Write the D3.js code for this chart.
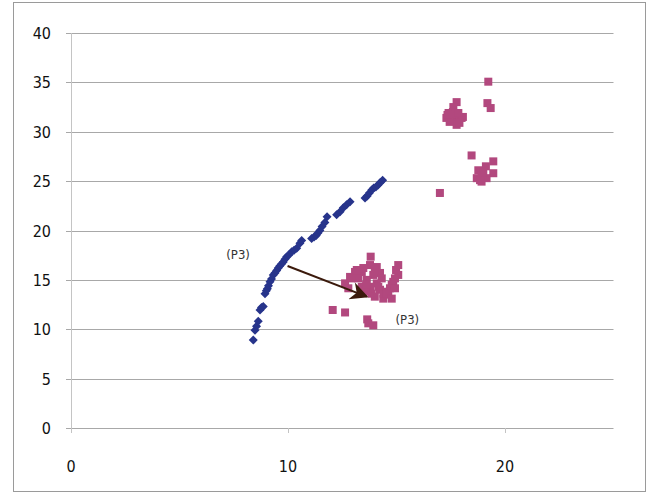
<!DOCTYPE html>
<html>
<head>
<meta charset="utf-8">
<script src="https://cdn.jsdelivr.net/npm/d3@7"></script>
<style>
  body { margin: 0; background: #fff; }
  svg text { font-family: "DejaVu Sans", sans-serif; font-stretch: condensed; fill: #111; }
</style>
</head>
<body>
<svg id="chart" width="651" height="494"></svg>
<script>
// blue series (diamonds)
const blueX = [8.4, 8.48, 8.55, 8.63, 8.71, 8.78, 8.86, 8.94, 9.0, 9.05, 9.1, 9.17, 9.24, 9.32, 9.4, 9.48, 9.55, 9.62, 9.7, 9.78, 9.86, 9.94, 10.05, 10.17, 10.28, 10.4, 10.55, 10.63, 11.09, 11.2, 11.3, 11.38, 11.47, 11.57, 11.7, 11.8, 12.24, 12.4, 12.55, 12.7, 12.86, 13.55, 13.65, 13.75, 13.86, 13.95, 14.05, 14.15, 14.25, 14.36];
const blueY = [8.9, 9.9, 10.3, 10.8, 11.95, 12.2, 12.3, 13.6, 13.9, 14.1, 14.4, 14.8, 15.1, 15.5, 15.7, 15.95, 16.2, 16.4, 16.6, 16.8, 17.1, 17.35, 17.55, 17.85, 18.0, 18.2, 18.7, 19.0, 19.2, 19.35, 19.5, 19.75, 20.0, 20.4, 20.8, 21.4, 21.6, 21.9, 22.3, 22.6, 22.9, 23.3, 23.5, 23.8, 24.1, 24.3, 24.4, 24.6, 24.85, 25.1];

// pink series (squares)
const pinkX = [17.77, 17.62, 17.4, 17.3, 17.7, 18.0, 17.77, 17.54, 18.06, 17.45, 17.6, 17.85, 17.35, 17.9,
  19.23, 19.19, 19.34,
  18.46, 19.46, 19.12, 18.77, 19.46, 18.92, 18.7, 18.92, 19.15, 19.0, 18.85, 17.0,
  13.81, 13.78, 14.09, 15.08, 15.08, 14.24, 13.93, 13.09, 13.4, 12.86, 13.24, 13.63, 12.63, 14.85, 14.09, 13.78,
  14.7, 14.24, 14.39, 14.62, 12.78, 13.4, 13.55, 13.86, 14.98, 14.93, 14.78, 14.55, 14.4, 14.32, 14.0, 13.47,
  13.17, 12.93, 13.6, 14.16, 14.93, 14.55, 14.78, 14.0,
  12.06, 12.63, 13.65, 13.93, 13.7];
const pinkY = [33.0, 32.5, 31.9, 31.4, 31.2, 31.4, 30.7, 31.7, 31.5, 31.0, 32.0, 31.9, 31.7, 30.9,
  35.07, 32.9, 32.4,
  27.6, 27.0, 26.5, 26.1, 25.8, 25.6, 25.3, 24.95, 25.3, 25.9, 25.1, 23.8,
  17.35, 16.5, 16.3, 16.5, 15.5, 15.7, 15.5, 15.8, 15.8, 15.3, 15.15, 15.0, 14.65, 14.8, 14.65, 14.3,
  14.15, 14.0, 13.1, 13.5, 14.15, 14.3, 13.8, 13.6, 16.0, 15.15, 14.5, 13.8, 13.6, 15.15, 16.0, 16.2,
  16.0, 15.15, 14.5, 14.3, 14.15, 13.6, 13.1, 13.3,
  11.95, 11.7, 11.0, 10.4, 10.6];

// annotations
const labelText = ["(P3)", "(P3)"];
const labelX = [7.7, 15.5];
const labelY = [17.5, 10.9];
const arrowFrom = [9.98, 16.4];
const arrowTo = [13.63, 13.3];

const xTicks = [0, 10, 20];
const yTicks = [0, 5, 10, 15, 20, 25, 30, 35, 40];

const svg = d3.select("#chart");

const x = d3.scaleLinear().domain([0, 25]).range([71, 613.5]);
const y = d3.scaleLinear().domain([0, 40]).range([428, 33]);

// outer frame
svg.append("rect")
  .attr("x", 13.5).attr("y", 2.5)
  .attr("width", 632).attr("height", 489)
  .attr("fill", "none").attr("stroke", "#9a9a9a");

// horizontal gridlines with outside ticks
svg.append("g").selectAll("line")
  .data(yTicks)
  .join("line")
  .attr("x1", 66).attr("x2", x(25))
  .attr("y1", d => Math.round(y(d)) + 0.5).attr("y2", d => Math.round(y(d)) + 0.5)
  .attr("stroke", "#a8a8a8");

// y axis line
svg.append("line")
  .attr("x1", 71.5).attr("x2", 71.5)
  .attr("y1", y(40)).attr("y2", y(0) + 5)
  .attr("stroke", "#c4c4c4");

// x ticks
svg.append("g").selectAll("line")
  .data(xTicks)
  .join("line")
  .attr("x1", d => Math.round(x(d)) + 0.5).attr("x2", d => Math.round(x(d)) + 0.5)
  .attr("y1", y(0)).attr("y2", y(0) + 5)
  .attr("stroke", "#c4c4c4");

// tick labels
svg.append("g").selectAll("text")
  .data(yTicks)
  .join("text")
  .attr("x", 51).attr("y", d => y(d) + 6)
  .attr("text-anchor", "end")
  .attr("font-size", 16)
  .text(d => d);

svg.append("g").selectAll("text")
  .data(xTicks)
  .join("text")
  .attr("x", d => x(d)).attr("y", 472)
  .attr("text-anchor", "middle")
  .attr("font-size", 16)
  .text(d => d);

// pink squares
svg.append("g").selectAll("rect")
  .data(pinkX.map((d, i) => [d, pinkY[i]]))
  .join("rect")
  .attr("x", d => x(d[0]) - 4).attr("y", d => y(d[1]) - 4)
  .attr("width", 8).attr("height", 8)
  .attr("fill", "#b2487e");

// blue diamonds
const diamond = "M0,-4.5L4.5,0L0,4.5L-4.5,0Z";
svg.append("g").selectAll("path")
  .data(blueX.map((d, i) => [d, blueY[i]]))
  .join("path")
  .attr("transform", d => `translate(${x(d[0])},${y(d[1])})`)
  .attr("d", diamond)
  .attr("fill", "#27348b");

// arrow
svg.append("defs").append("marker")
  .attr("id", "head")
  .attr("viewBox", "0 0 10 10")
  .attr("refX", 9).attr("refY", 5)
  .attr("markerWidth", 22).attr("markerHeight", 18)
  .attr("markerUnits", "userSpaceOnUse")
  .attr("orient", "auto")
  .append("path")
  .attr("d", "M0,0L10,5L0,10L3,5Z")
  .attr("fill", "#3b1a0c");

svg.append("line")
  .attr("x1", x(arrowFrom[0])).attr("y1", y(arrowFrom[1]))
  .attr("x2", x(arrowTo[0])).attr("y2", y(arrowTo[1]))
  .attr("stroke", "#3b1a0c").attr("stroke-width", 2)
  .attr("marker-end", "url(#head)");

svg.append("g").selectAll("text")
  .data(labelText)
  .join("text")
  .attr("x", (d, i) => x(labelX[i])).attr("y", (d, i) => y(labelY[i]) + 4)
  .attr("text-anchor", "middle")
  .attr("font-size", 13)
  .style("fill", "#333")
  .text(d => d);
</script>
</body>
</html>
